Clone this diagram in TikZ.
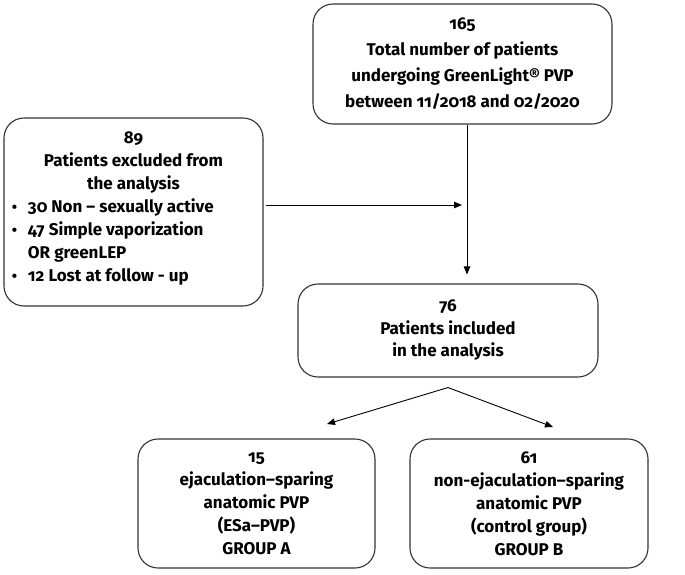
\documentclass[tikz,border=0pt]{standalone}
\usepackage{fontspec}
\setmainfont{Fira Sans}[Numbers=OldStyle]
\usetikzlibrary{arrows.meta,calc}
\newcommand{\bul}{\makebox[16pt][l]{\raisebox{0.1ex}{\scalebox{0.9}{•}}}}
\tikzset{
  box/.style={draw=black!80, line width=1.1pt, rounded corners=20pt, align=center, inner sep=4pt, font=\bfseries},
  arr/.style={draw=black, line width=0.9pt, -{Triangle[length=8pt,width=6.5pt]}},
}
\begin{document}
\begin{tikzpicture}[x=1pt,y=-1pt]
\useasboundingbox (0,0) rectangle (685,574);
\node[box, minimum width=299pt, minimum height=120pt, font=\bfseries\fontsize{17}{26}\selectfont] (total) at (462.5,64)
  {165\\Total number of patients\\undergoing GreenLight® PVP\\between 11/2018 and 02/2020};
\node[box, minimum width=259pt, minimum height=188pt, inner xsep=8pt, font=\bfseries\fontsize{17}{23}\selectfont] (excl) at (133.5,212)
  {\begin{minipage}{243pt}
   \centering 89\\Patients excluded from\\the analysis\par
   \raggedright
   \bul 30 Non – sexually active\\
   \bul 47 Simple vaporization\\
   \hspace*{16pt}OR greenLEP\\
   \bul 12 Lost at follow - up\par\vspace*{6pt}
   \end{minipage}};
\node[box, minimum width=300pt, minimum height=93pt, font=\bfseries\fontsize{17}{22.5}\selectfont] (incl) at (448,330.5)
  {76\\Patients included\\in the analysis};
\node[box, minimum width=237pt, minimum height=129pt, font=\bfseries\fontsize{17}{23}\selectfont] (ga) at (256.5,503.5)
  {15\\ejaculation–sparing\\anatomic PVP\\(ESa–PVP)\\GROUP A};
\node[box, minimum width=238pt, minimum height=129pt, font=\bfseries\fontsize{17}{23}\selectfont] (gb) at (529,503.5)
  {61\\non-ejaculation–sparing\\anatomic PVP\\(control group)\\GROUP B};
\coordinate (vx) at (467,0);
\coordinate (hend) at (462,205);
\coordinate (split) at ($(incl.south)+(0,10)$);
\coordinate (endA) at (327,424);
\coordinate (endB) at (553,427);
\draw[arr] (vx |- total.south) -- ($(vx |- incl.north)+(0,-9)$);
\draw[arr] ($(excl.east |- hend)+(2,0)$) -- (hend);
\draw[arr] (split) -- (endA);
\draw[arr] (split) -- (endB);
\end{tikzpicture}
\end{document}
